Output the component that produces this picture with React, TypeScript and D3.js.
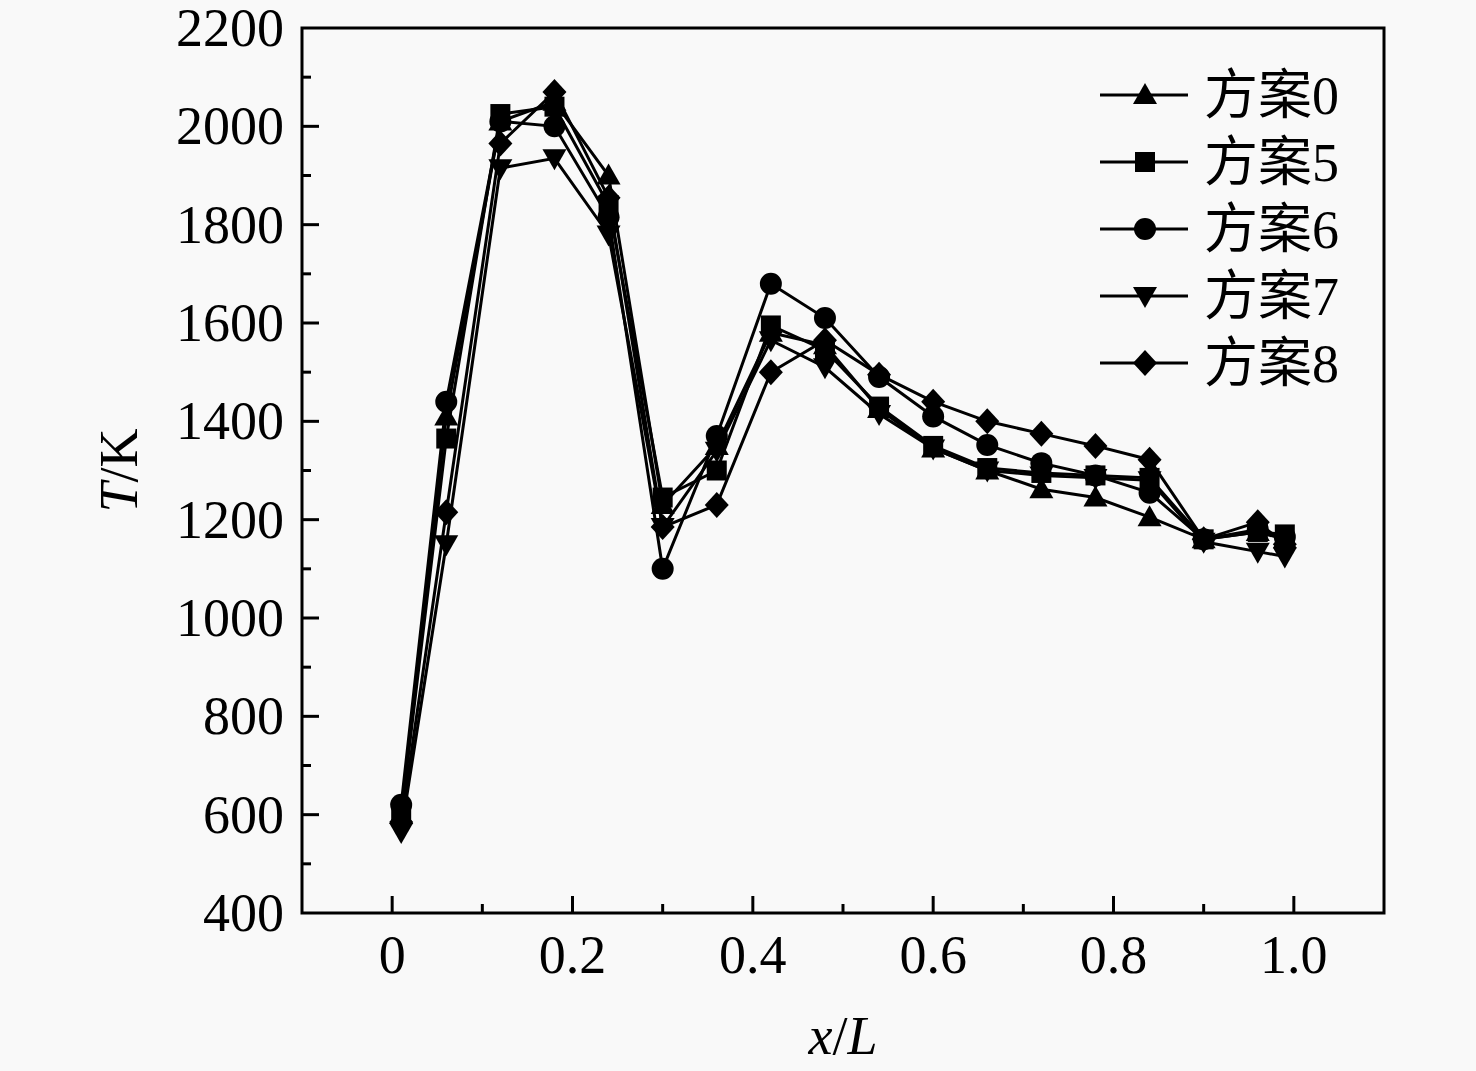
import { useRef, useEffect } from 'react';
import * as d3 from 'd3';

const xPositions = [0.01, 0.06, 0.12, 0.18, 0.24, 0.3, 0.36, 0.42, 0.48, 0.54, 0.6, 0.66, 0.72, 0.78, 0.84, 0.9, 0.96, 0.99];

const seriesNames = ['方案0', '方案5', '方案6', '方案7', '方案8'];

const plan0 = [600, 1410, 2010, 2050, 1900, 1230, 1350, 1580, 1555, 1425, 1345, 1300, 1262, 1245, 1205, 1160, 1175, 1160];
const plan5 = [600, 1365, 2025, 2040, 1840, 1245, 1300, 1595, 1545, 1430, 1350, 1305, 1295, 1290, 1285, 1160, 1175, 1170];
const plan6 = [620, 1440, 2010, 2000, 1815, 1100, 1370, 1680, 1610, 1490, 1410, 1352, 1315, 1290, 1255, 1160, 1180, 1165];
const plan7 = [565, 1150, 1915, 1935, 1780, 1185, 1340, 1565, 1510, 1415, 1345, 1300, 1290, 1285, 1280, 1155, 1135, 1125];
const plan8 = [585, 1215, 1965, 2070, 1855, 1185, 1230, 1500, 1565, 1495, 1440, 1400, 1375, 1350, 1322, 1160, 1195, 1150];

const markerTypes = ['triUp', 'square', 'circle', 'triDown', 'diamond'];

const xMajorTicks = [0, 0.2, 0.4, 0.6, 0.8, 1.0];
const xTickLabels = ['0', '0.2', '0.4', '0.6', '0.8', '1.0'];
const yMajorTicks = [400, 600, 800, 1000, 1200, 1400, 1600, 1800, 2000, 2200];

const W = 1476;
const H = 1071;
const plot = { left: 302, right: 1384, top: 28, bottom: 913 };
const FONT = "'Liberation Serif', 'Times New Roman', 'Noto Sans CJK SC', serif";

function markerPath(type: string, x: number, y: number) {
  switch (type) {
    case 'triUp':
      return `M${x},${y - 12}L${x + 12},${y + 9}L${x - 12},${y + 9}Z`;
    case 'triDown':
      return `M${x},${y + 12}L${x + 12},${y - 9}L${x - 12},${y - 9}Z`;
    case 'square':
      return `M${x - 10},${y - 10}H${x + 10}V${y + 10}H${x - 10}Z`;
    case 'diamond':
      return `M${x},${y - 13}L${x + 12},${y}L${x},${y + 13}L${x - 12},${y}Z`;
    default:
      return `M${x - 11},${y}A11,11 0 1,0 ${x + 11},${y}A11,11 0 1,0 ${x - 11},${y}Z`;
  }
}

export default function App() {
  const svgRef = useRef<SVGSVGElement>(null);

  useEffect(() => {
    const svg = d3.select(svgRef.current);
    svg.selectAll('*').remove();

    const xScale = d3.scaleLinear().domain([-0.1, 1.1]).range([plot.left, plot.right]);
    const yScale = d3.scaleLinear().domain([400, 2200]).range([plot.bottom, plot.top]);

    const allSeries = [plan0, plan5, plan6, plan7, plan8];

    svg.append('rect').attr('width', W).attr('height', H).attr('fill', '#f9f9f9');

    // frame
    svg
      .append('rect')
      .attr('x', plot.left)
      .attr('y', plot.top)
      .attr('width', plot.right - plot.left)
      .attr('height', plot.bottom - plot.top)
      .attr('fill', 'none')
      .attr('stroke', '#000')
      .attr('stroke-width', 3);

    // ticks, inward on bottom and left only
    const ticks = svg.append('g').attr('stroke', '#000').attr('stroke-width', 3);
    d3.range(0, 11).forEach((i) => {
      const v = i / 10;
      const major = i % 2 === 0;
      const len = major ? 17 : 9;
      const x = xScale(v);
      ticks.append('line').attr('x1', x).attr('x2', x).attr('y1', plot.bottom).attr('y2', plot.bottom - len);
    });
    d3.range(500, 2200, 100).forEach((v) => {
      const major = v % 200 === 0;
      const len = major ? 17 : 9;
      const y = yScale(v);
      ticks.append('line').attr('x1', plot.left).attr('x2', plot.left + len).attr('y1', y).attr('y2', y);
    });

    // tick labels
    svg
      .append('g')
      .selectAll('text')
      .data(yMajorTicks)
      .enter()
      .append('text')
      .attr('x', plot.left - 18)
      .attr('y', (d) => yScale(d) + 18)
      .attr('text-anchor', 'end')
      .style('font-family', FONT)
      .style('font-size', '54px')
      .text((d) => d);

    svg
      .append('g')
      .selectAll('text')
      .data(xMajorTicks)
      .enter()
      .append('text')
      .attr('x', (d) => xScale(d))
      .attr('y', plot.bottom + 60)
      .attr('text-anchor', 'middle')
      .style('font-family', FONT)
      .style('font-size', '54px')
      .text((d, i) => xTickLabels[i]);

    // axis titles
    const xt = svg
      .append('text')
      .attr('x', 843)
      .attr('y', 1054)
      .attr('text-anchor', 'middle')
      .style('font-family', FONT)
      .style('font-size', '54px');
    xt.append('tspan').style('font-style', 'italic').text('x');
    xt.append('tspan').text('/');
    xt.append('tspan').style('font-style', 'italic').text('L');

    const yt = svg
      .append('text')
      .attr('transform', `translate(137,${(plot.top + plot.bottom) / 2}) rotate(-90)`)
      .attr('text-anchor', 'middle')
      .style('font-family', FONT)
      .style('font-size', '54px');
    yt.append('tspan').style('font-style', 'italic').text('T');
    yt.append('tspan').text('/K');

    // series
    const line = d3
      .line<number>()
      .x((d, i) => xScale(xPositions[i]))
      .y((d) => yScale(d));

    allSeries.forEach((vals, si) => {
      const g = svg.append('g');
      g.append('path')
        .datum(vals)
        .attr('fill', 'none')
        .attr('stroke', '#000')
        .attr('stroke-width', 3)
        .attr('d', line);
      g.selectAll('path.mk')
        .data(vals)
        .enter()
        .append('path')
        .attr('class', 'mk')
        .attr('fill', '#000')
        .attr('d', (d, i) => markerPath(markerTypes[si], xScale(xPositions[i]), yScale(d)));
    });

    // legend
    const legend = svg.append('g');
    seriesNames.forEach((name, i) => {
      const y = 95 + i * 67;
      legend
        .append('line')
        .attr('x1', 1100)
        .attr('x2', 1188)
        .attr('y1', y)
        .attr('y2', y)
        .attr('stroke', '#000')
        .attr('stroke-width', 3);
      legend.append('path').attr('fill', '#000').attr('d', markerPath(markerTypes[i], 1145, y));
      legend
        .append('text')
        .attr('x', 1204)
        .attr('y', y + 19)
        .style('font-family', FONT)
        .style('font-size', '54px')
        .text(name);
    });
  }, []);

  return (
    <svg
      ref={svgRef}
      width={W}
      height={H}
      style={{ position: 'absolute', left: 0, top: 0 }}
    />
  );
}
